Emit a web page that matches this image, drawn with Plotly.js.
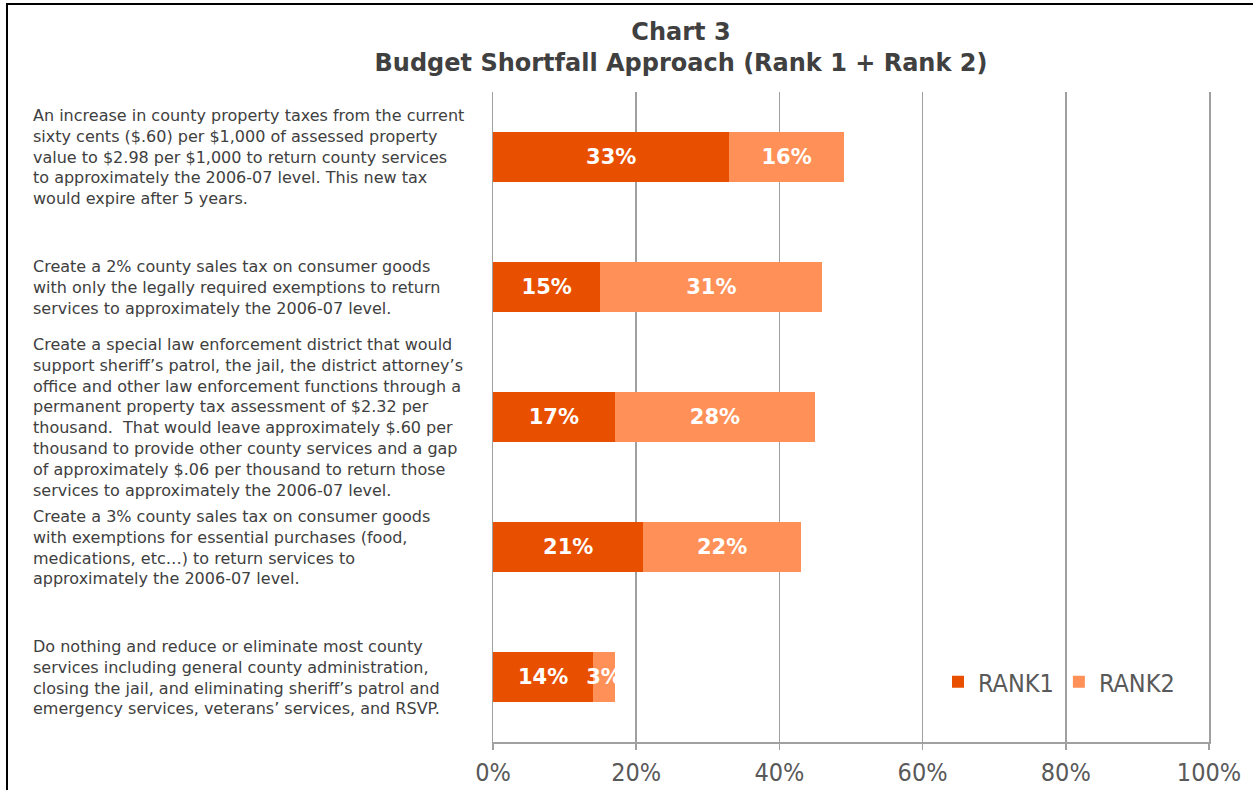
<!DOCTYPE html>
<html>
<head>
<meta charset="utf-8">
<script src="https://cdn.plot.ly/plotly-3.0.1.min.js"></script>
<style>
  html, body { margin: 0; padding: 0; background: white; }
  #chart { width: 1253px; height: 790px; }
</style>
</head>
<body>
<div id="chart"></div>
<script>
// Chart 3 - Budget Shortfall Approach, stacked horizontal bars.

var categories = [
  'An increase in county property taxes from the current<br>sixty cents ($.60) per $1,000 of assessed property<br>value to $2.98 per $1,000 to return county services<br>to approximately the 2006-07 level. This new tax<br>would expire after 5 years.',
  'Create a 2% county sales tax on consumer goods<br>with only the legally required exemptions to return<br>services to approximately the 2006-07 level.',
  'Create a special law enforcement district that would<br>support sheriff\u2019s patrol, the jail, the district attorney\u2019s<br>office and other law enforcement functions through a<br>permanent property tax assessment of $2.32 per<br>thousand.  That would leave approximately $.60 per<br>thousand to provide other county services and a gap<br>of approximately $.06 per thousand to return those<br>services to approximately the 2006-07 level.',
  'Create a 3% county sales tax on consumer goods<br>with exemptions for essential purchases (food,<br>medications, etc\u2026) to return services to<br>approximately the 2006-07 level.',
  'Do nothing and reduce or eliminate most county<br>services including general county administration,<br>closing the jail, and eliminating sheriff\u2019s patrol and<br>emergency services, veterans\u2019 services, and RSVP.'
];
var rank1 = [33, 15, 17, 21, 14];
var rank2 = [16, 31, 28, 22, 3];
var seriesNames = ['RANK1', 'RANK2'];

var W = 1253, H = 790;
var margin = {l: 493, r: 44, t: 92, b: 48};
var plotW = W - margin.l - margin.r;
var plotH = H - margin.t - margin.b;

// pixel -> paper coordinates
function px(x) { return (x - margin.l) / plotW; }
function py(y) { return (H - margin.b - y) / plotH; }

var narrow = '"Liberation Sans Narrow", "DejaVu Sans Condensed", sans-serif';
var verdanaLike = '"DejaVu Sans", Verdana, sans-serif';
var gridGrey = '#A0A0A0';

function barTrace(name, values, color) {
  return {
    type: 'bar', orientation: 'h', name: name,
    x: values, y: categories,
    marker: {color: color, line: {width: 0}},
    text: values.map(function (v) { return v + '%'; }),
    textposition: 'inside', insidetextanchor: 'middle',
    textangle: 0, constraintext: 'none',
    textfont: {family: verdanaLike, size: 21, color: 'white', weight: 'bold'},
    hoverinfo: 'x+name'
  };
}

var traces = [
  barTrace(seriesNames[0], rank1, '#E85000'),
  barTrace(seriesNames[1], rank2, '#FF9158')
];

var annotations = categories.map(function (c) {
  return {
    xref: 'paper', yref: 'y', x: px(31), y: c,
    xanchor: 'left', yanchor: 'middle', align: 'left',
    text: c, showarrow: false,
    font: {family: verdanaLike, size: 16, color: '#404040'}
  };
});

var layout = {
  width: W, height: H,
  margin: margin,
  barmode: 'stack',
  bargap: 0.61,
  paper_bgcolor: 'white', plot_bgcolor: 'white',
  title: {
    text: 'Chart 3<br>Budget Shortfall Approach (Rank 1 + Rank 2)',
    x: 681 / W, xanchor: 'center',
    y: 1 - 40 / H, yanchor: 'top',
    font: {family: verdanaLike, size: 24, color: '#404040', weight: 'bold'}
  },
  xaxis: {
    range: [0, 100], dtick: 20, ticksuffix: '%',
    showgrid: true, gridcolor: gridGrey, gridwidth: 1.5,
    zeroline: false,
    showline: true, linecolor: gridGrey, linewidth: 1.5,
    ticks: 'outside', ticklen: 6, tickcolor: gridGrey, tickwidth: 1.5,
    ticklabelstandoff: 1,
    tickfont: {family: narrow, size: 25, color: '#595959'},
    fixedrange: true
  },
  yaxis: {
    type: 'category', autorange: 'reversed',
    showticklabels: false, showgrid: false, zeroline: false,
    showline: true, mirror: true, linecolor: gridGrey, linewidth: 1.5,
    ticks: '', fixedrange: true
  },
  legend: {
    orientation: 'h', x: px(938), y: py(682),
    xanchor: 'left', yanchor: 'middle',
    bgcolor: 'rgba(0,0,0,0)',
    font: {family: narrow, size: 25, color: '#595959'},
    traceorder: 'normal', itemwidth: 30
  },
  annotations: annotations,
  shapes: [
    // black frame on left and top edges
    {type: 'path', xref: 'paper', yref: 'paper',
     path: 'M ' + px(7) + ' ' + py(800) + ' L ' + px(7) + ' ' + py(4) + ' L ' + px(1270) + ' ' + py(4),
     line: {color: 'black', width: 2}}
  ]
};

Plotly.newPlot('chart', traces, layout, {displayModeBar: false, staticPlot: true});
</script>
</body>
</html>
